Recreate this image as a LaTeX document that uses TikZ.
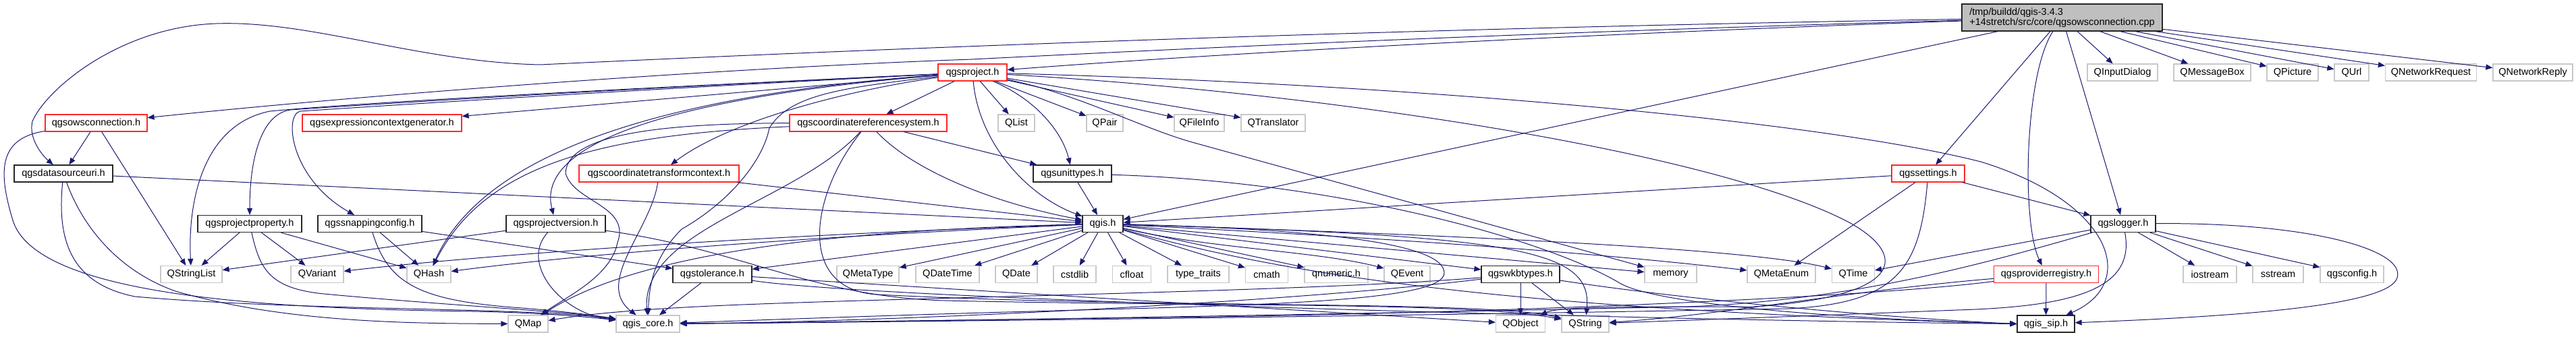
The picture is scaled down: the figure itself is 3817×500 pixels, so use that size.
\documentclass[tikz,border=0pt]{standalone}
\usepackage{fontspec}
\setmainfont{Liberation Sans}
\usepackage{tikz}
\usetikzlibrary{arrows.meta}
\definecolor{edgeblue}{RGB}{25,25,112}
\definecolor{rootfill}{RGB}{191,191,191}
\definecolor{sysgray}{RGB}{200,200,200}
\definecolor{truncred}{RGB}{255,40,40}
\tikzset{
  hdrnode/.style={draw=black!85, line width=1.2pt, fill=white, minimum height=25,
    inner xsep=2pt, inner ysep=0pt, font=\fontsize{14.5}{15}\selectfont},
  trunchdr/.style={hdrnode, draw=truncred},
  sysnode/.style={hdrnode, draw=sysgray},
  rootnode/.style={hdrnode, fill=rootfill, minimum height=40, align=left},
  incarrow/.style={-{Triangle[length=10pt,width=8pt]}, line width=1pt, draw=edgeblue}
}

\begin{document}
\begin{tikzpicture}[x=1pt, y=-1pt]
  \useasboundingbox (0,0) rectangle (3817,500);
  % top row
  \node[rootnode, minimum width=297] (root) at (3055.5,26) {/tmp/buildd/qgis-3.4.3\\+14stretch/src/core/qgsowsconnection.cpp};
  \node[trunchdr, minimum width=102] (proj) at (1441,107.5) {qgsproject.h};
  \node[sysnode, minimum width=104] (inputdlg) at (3145,107.5) {QInputDialog};
  \node[sysnode, minimum width=114] (msgbox) at (3278,107.5) {QMessageBox};
  \node[sysnode, minimum width=76] (picture) at (3397,107.5) {QPicture};
  \node[sysnode, minimum width=51] (qurl) at (3484.5,107.5) {QUrl};
  \node[sysnode, minimum width=135] (netreq) at (3602,107.5) {QNetworkRequest};
  \node[sysnode, minimum width=118] (netrep) at (3753,107.5) {QNetworkReply};
  % second row
  \node[trunchdr, minimum width=151] (ows) at (142.5,182.5) {qgsowsconnection.h};
  \node[trunchdr, minimum width=236] (exprgen) at (566,182.5) {qgsexpressioncontextgenerator.h};
  \node[trunchdr, minimum width=233] (crs) at (1286.5,182.5) {qgscoordinatereferencesystem.h};
  \node[sysnode, minimum width=54] (qlist) at (1506,182.5) {QList};
  \node[sysnode, minimum width=54] (qpair) at (1637,182.5) {QPair};
  \node[sysnode, minimum width=74] (finfo) at (1777,182.5) {QFileInfo};
  \node[sysnode, minimum width=95] (transl) at (1886.5,182.5) {QTranslator};
  % third row
  \node[hdrnode, minimum width=146] (dsuri) at (94,257.5) {qgsdatasourceuri.h};
  \node[trunchdr, minimum width=237] (ctc) at (976.5,257.5) {qgscoordinatetransformcontext.h};
  \node[hdrnode, minimum width=116] (units) at (1589,257.5) {qgsunittypes.h};
  \node[trunchdr, minimum width=108] (settings) at (2857,257.5) {qgssettings.h};
  % fourth row
  \node[hdrnode, minimum width=154] (pprop) at (370,332) {qgsprojectproperty.h};
  \node[hdrnode, minimum width=154] (snap) at (548,332) {qgssnappingconfig.h};
  \node[hdrnode, minimum width=147] (pver) at (823.5,332) {qgsprojectversion.h};
  \node[hdrnode, minimum width=60] (qgis) at (1634,332) {qgis.h};
  \node[hdrnode, minimum width=96] (logger) at (3146,332) {qgslogger.h};
  % fifth row
  \node[sysnode, minimum width=91] (strlist) at (283.5,407) {QStringList};
  \node[sysnode, minimum width=78] (variant) at (470,407) {QVariant};
  \node[sysnode, minimum width=65] (hash) at (635.5,407) {QHash};
  \node[hdrnode, minimum width=117] (tol) at (1055.5,407) {qgstolerance.h};
  \node[sysnode, minimum width=92] (metatype) at (1286,407) {QMetaType};
  \node[sysnode, minimum width=94] (datetime) at (1404,407) {QDateTime};
  \node[sysnode, minimum width=62] (date) at (1506,407) {QDate};
  \node[sysnode, minimum width=63] (cstdlib) at (1592.5,407) {cstdlib};
  \node[sysnode, minimum width=57] (cfloat) at (1677,407) {cfloat};
  \node[sysnode, minimum width=91] (typetr) at (1775.5,407) {type\_traits};
  \node[sysnode, minimum width=63] (cmath) at (1877,407) {cmath};
  \node[sysnode, minimum width=94] (qnum) at (1980,407) {qnumeric.h};
  \node[sysnode, minimum width=68] (event) at (2085,407) {QEvent};
  \node[hdrnode, minimum width=116] (wkb) at (2253,407) {qgswkbtypes.h};
  \node[sysnode, minimum width=77] (memory) at (2475.5,407) {memory};
  \node[sysnode, minimum width=101] (metaenum) at (2639.5,407) {QMetaEnum};
  \node[sysnode, minimum width=63] (qtime) at (2746,407) {QTime};
  \node[trunchdr, minimum width=155] (provreg) at (3032,407) {qgsproviderregistry.h};
  \node[sysnode, minimum width=79] (iostream) at (3274.5,407) {iostream};
  \node[sysnode, minimum width=75] (sstream) at (3375.5,407) {sstream};
  \node[sysnode, minimum width=94] (qgscfg) at (3485,407) {qgsconfig.h};
  % bottom row
  \node[sysnode, minimum width=59] (map) at (782.5,480.5) {QMap};
  \node[sysnode, minimum width=94] (core) at (960,480.5) {qgis\_core.h};
  \node[sysnode, minimum width=73] (qobject) at (2253,480.5) {QObject};
  \node[sysnode, minimum width=70] (qstring) at (2349,480.5) {QString};
  \node[hdrnode, minimum width=85] (sip) at (3031.5,480.5) {qgis\_sip.h};

  % includes of the .cpp file
  \draw[incarrow] (root) .. controls (2500,45) and (1900,72) .. (proj);
  \draw[incarrow] (root) .. controls (2200,50) and (1700,75) .. (1440,88) .. controls (1100,100) and (600,135) .. (ows);
  \draw[incarrow] (root) .. controls (1900,45) and (1100,82) .. (800,96) .. controls (620,92) and (460,30) .. (320,35) .. controls (180,40) and (70,130) .. (48,180) .. controls (42,205) and (62,230) .. (dsuri);
  \draw[incarrow] (root) -- (qgis);
  \draw[incarrow] (root) -- (settings);
  \draw[incarrow] (root) .. controls (3000,110) and (2995,330) .. (provreg);
  \draw[incarrow] (root) -- (logger);
  \draw[incarrow] (root) -- (inputdlg);
  \draw[incarrow] (root) -- (msgbox);
  \draw[incarrow] (root) -- (picture);
  \draw[incarrow] (root) -- (qurl);
  \draw[incarrow] (root) -- (netreq);
  \draw[incarrow] (root) -- (netrep);

  % qgsproject.h
  \draw[incarrow] (proj) -- (exprgen);
  \draw[incarrow] (proj) -- (crs);
  \draw[incarrow] (proj) .. controls (1250,135) and (1080,180) .. (ctc);
  \draw[incarrow] (proj) .. controls (1000,128) and (620,150) .. (430,163) .. controls (385,170) and (370,240) .. (pprop);
  \draw[incarrow] (proj) .. controls (1000,130) and (640,152) .. (445,165) .. controls (420,170) and (430,265) .. (snap);
  \draw[incarrow] (proj) .. controls (1000,128) and (560,150) .. (400,165) .. controls (300,185) and (278,300) .. (strlist);
  \draw[incarrow] (proj) .. controls (1000,140) and (720,220) .. (hash);
  \draw[incarrow] (proj) .. controls (1050,140) and (790,200) .. (pver);
  \draw[incarrow] (proj) .. controls (1250,130) and (1170,140) .. (1140,190) .. controls (1130,240) and (1080,300) .. (1010,340) .. controls (970,380) and (962,420) .. (core);
  \draw[incarrow] (proj) .. controls (1540,150) and (1575,200) .. (units);
  \draw[incarrow] (proj) .. controls (1450,210) and (1520,290) .. (qgis);
  \draw[incarrow] (proj) -- (qlist);
  \draw[incarrow] (proj) -- (qpair);
  \draw[incarrow] (proj) -- (finfo);
  \draw[incarrow] (proj) -- (transl);
  \draw[incarrow] (proj) .. controls (1600,140) and (1690,190) .. (1770,212) -- (memory);
  \draw[incarrow] (proj) .. controls (2100,125) and (2700,180) .. (2935,240) .. controls (3130,300) and (3170,420) .. (sip);
  \draw[incarrow] (proj) .. controls (2000,140) and (2550,230) .. (2740,330) .. controls (2830,380) and (2820,440) .. (2600,455) .. controls (2400,455) and (2310,455) .. (qobject);

  % qgsowsconnection.h and qgsdatasourceuri.h
  \draw[incarrow] (ows) -- (dsuri);
  \draw[incarrow] (ows) -- (strlist);
  \draw[incarrow] (ows) .. controls (0,205) and (-5,250) .. (20,330) .. controls (60,440) and (400,458) .. (700,462) .. controls (800,464) and (870,470) .. (core);
  \draw[incarrow] (dsuri) -- (qgis);
  \draw[incarrow] (dsuri) .. controls (85,350) and (100,420) .. (200,440) .. controls (450,462) and (780,455) .. (core);
  \draw[incarrow] (dsuri) .. controls (120,330) and (170,400) .. (260,432) .. controls (420,478) and (600,480) .. (map);

  % qgscoordinatereferencesystem.h and qgscoordinatetransformcontext.h
  \draw[incarrow] (crs) -- (units);
  \draw[incarrow] (crs) .. controls (1360,260) and (1490,305) .. (qgis);
  \draw[incarrow] (crs) .. controls (950,183) and (840,205) .. (838,257) .. controls (850,300) and (935,305) .. (915,360) .. controls (905,410) and (840,440) .. (map);
  \draw[incarrow] (crs) .. controls (900,200) and (720,240) .. (hash);
  \draw[incarrow] (crs) .. controls (1180,300) and (950,340) .. (core);
  \draw[incarrow] (crs) .. controls (1200,290) and (1180,430) .. (1300,437) .. controls (1700,458) and (2200,445) .. (qstring);
  \draw[incarrow] (ctc) -- (qgis);
  \draw[incarrow] (ctc) .. controls (965,340) and (880,420) .. (core);

  % qgsprojectproperty.h, qgssnappingconfig.h, qgsprojectversion.h
  \draw[incarrow] (pprop) -- (strlist);
  \draw[incarrow] (pprop) -- (variant);
  \draw[incarrow] (pprop) -- (hash);
  \draw[incarrow] (pprop) .. controls (385,400) and (400,428) .. (480,436) .. controls (650,452) and (850,463) .. (core);
  \draw[incarrow] (snap) -- (hash);
  \draw[incarrow] (snap) -- (tol);
  \draw[incarrow] (snap) .. controls (575,420) and (620,445) .. (760,456) .. controls (840,462) and (880,468) .. (core);
  \draw[incarrow] (pver) -- (strlist);
  \draw[incarrow] (pver) .. controls (770,390) and (830,465) .. (core);
  \draw[incarrow] (pver) .. controls (1100,370) and (1200,440) .. (1400,446) .. controls (1800,455) and (2180,448) .. (qstring);

  % qgsunittypes.h
  \draw[incarrow] (units) -- (qgis);
  \draw[incarrow] (units) .. controls (2000,270) and (2300,360) .. (2400,420) .. controls (2450,450) and (2700,472) .. (sip.west);

  % qgis.h
  \draw[incarrow] (qgis) -- (metatype);
  \draw[incarrow] (qgis) -- (datetime);
  \draw[incarrow] (qgis) -- (date);
  \draw[incarrow] (qgis) -- (cstdlib);
  \draw[incarrow] (qgis) -- (cfloat);
  \draw[incarrow] (qgis) -- (typetr);
  \draw[incarrow] (qgis) -- (cmath);
  \draw[incarrow] (qgis) -- (qnum);
  \draw[incarrow] (qgis) .. controls (1800,370) and (1950,372) .. (event);
  \draw[incarrow] (qgis) -- (wkb);
  \draw[incarrow] (qgis) -- (memory);
  \draw[incarrow] (qgis) .. controls (2200,360) and (2450,385) .. (metaenum);
  \draw[incarrow] (qgis) .. controls (2200,350) and (2600,370) .. (qtime);
  \draw[incarrow] (qgis) .. controls (2250,350) and (2360,370) .. (qstring);
  \draw[incarrow] (qgis) .. controls (1950,420) and (2300,460) .. (sip.west);
  \draw[incarrow] (qgis) .. controls (1100,350) and (700,380) .. (variant);
  \draw[incarrow] (qgis) .. controls (1100,355) and (800,385) .. (hash);
  \draw[incarrow] (qgis) -- (tol);
  \draw[incarrow] (qgis) .. controls (1300,340) and (960,365) .. (map);
  \draw[incarrow] (qgis) .. controls (1950,340) and (2140,360) .. (2140,405) .. controls (2140,445) and (1900,452) .. (1600,460) .. controls (1300,468) and (1100,476) .. (core);

  % qgstolerance.h and qgswkbtypes.h
  \draw[incarrow] (tol) -- (core);
  \draw[incarrow] (tol) -- (qobject);
  \draw[incarrow] (tol) .. controls (1300,445) and (2500,476) .. (sip.west);
  \draw[incarrow] (wkb) -- (qobject);
  \draw[incarrow] (wkb) -- (qstring);
  \draw[incarrow] (wkb) .. controls (1950,432) and (1400,440) .. (1100,452) .. controls (950,458) and (870,466) .. (map);
  \draw[incarrow] (wkb) .. controls (1900,450) and (1300,478) .. (core);
  \draw[incarrow] (wkb) .. controls (2500,445) and (2800,472) .. (sip.west);

  % qgssettings.h, qgslogger.h, qgsproviderregistry.h
  \draw[incarrow] (settings) -- (metaenum);
  \draw[incarrow] (settings) -- (logger);
  \draw[incarrow] (settings) -- (qgis);
  \draw[incarrow] (settings) .. controls (2845,400) and (2810,450) .. (2650,458) .. controls (2000,470) and (1300,478) .. (core);
  \draw[incarrow] (logger) -- (iostream);
  \draw[incarrow] (logger) -- (sstream);
  \draw[incarrow] (logger) -- (qgscfg);
  \draw[incarrow] (logger) -- (qtime);
  \draw[incarrow] (logger) .. controls (3165,430) and (3070,455) .. (2900,460) .. controls (2700,468) and (2480,476) .. (qstring);
  \draw[incarrow] (logger) .. controls (2960,385) and (2760,445) .. (2500,455) .. controls (1900,468) and (1300,478) .. (core);
  \draw[incarrow] (logger) .. controls (3420,330) and (3565,370) .. (3552,412) .. controls (3540,455) and (3300,470) .. (sip);
  \draw[incarrow] (provreg) -- (sip);
  \draw[incarrow] (provreg) .. controls (2800,438) and (2300,462) .. (1800,470) .. controls (1400,475) and (1150,479) .. (core);
  \draw[incarrow] (provreg) .. controls (2750,430) and (2550,468) .. (qstring);
\end{tikzpicture}
\end{document}
